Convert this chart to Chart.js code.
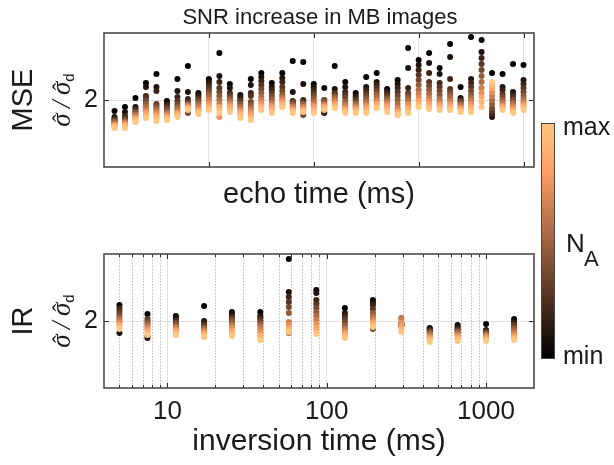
<!DOCTYPE html>
<html><head><meta charset="utf-8">
<script src="https://cdn.jsdelivr.net/npm/chart.js@4.4.1/dist/chart.umd.min.js"></script>
<style>
html,body{margin:0;padding:0;background:#fff;}
body{width:614px;height:465px;position:relative;overflow:hidden;font-family:"Liberation Sans",Arial,Helvetica,sans-serif;color:#1a1a1a;}
.abs{position:absolute;white-space:nowrap;line-height:1;}
.ctr{transform:translate(-50%,-50%);}
.rot{transform:translate(-50%,-50%) rotate(-90deg);}
canvas{position:absolute;left:0;}
#c1{top:0;}
#c2{top:220px;}
.sig{font-family:"Liberation Serif","DejaVu Serif",serif;font-style:italic;font-size:27px;}
.sig sub{font-style:normal;font-family:"Liberation Sans",Arial,sans-serif;font-size:15px;vertical-align:-4px;}
.hat{position:relative;display:inline-block;}
.caret{position:absolute;left:0.2em;top:0.12em;font-style:normal;font-size:0.85em;}
#cbar{position:absolute;left:541px;top:123px;width:12px;height:234px;border:1px solid #444;
 background:linear-gradient(to bottom,rgb(255,199,127) 0%,rgb(255,159,101) 20%,rgb(0,0,0) 100%);}
</style></head><body>
<canvas id="c1" width="614" height="212"></canvas>
<canvas id="c2" width="614" height="245"></canvas>

<div class="abs ctr" style="left:320px;top:17px;font-size:22px;">SNR increase in MB images</div>
<div class="abs rot" style="left:22px;top:100px;font-size:29px;">MSE</div>
<div class="abs rot sig" style="left:62px;top:100px;"><span class="hat">σ<span class="caret">ˆ</span></span>&#8201;/&#8201;<span class="hat">σ<span class="caret">ˆ</span></span><sub>d</sub></div>
<div class="abs rot" style="left:22px;top:321px;font-size:29px;">IR</div>
<div class="abs rot sig" style="left:62px;top:321px;"><span class="hat">σ<span class="caret">ˆ</span></span>&#8201;/&#8201;<span class="hat">σ<span class="caret">ˆ</span></span><sub>d</sub></div>

<div id="cbar"></div>
<div class="abs" style="left:563px;top:114px;font-size:25px;">max</div>
<div class="abs" style="left:563px;top:343px;font-size:25px;">min</div>
<div class="abs" style="left:566px;top:230px;font-size:26px;">N</div>
<div class="abs" style="left:584px;top:248px;font-size:22px;">A</div>

<script>
// ---------- data ----------
const ECHO_TIMES = [10,20,30,40,50,60,70,80,90,100,110,120,130,140,150,160,170,180,190,200,
                    210,220,230,240,250,260,270,280,290,300,310,320,330,340,350,360,370,380,390,400];
const INVERSION_TIMES = [5,7.5,11.3,17,25.4,38.3,57.8,86,130,195,294,443,663,1000,1500];
const NA_LEVELS = [1,2,3,4,5,6,7,8,9,10,11,12];   // ordered min -> max
const MSE_X_TICKS = [100,200,300,400];
const IR_X_TICKS = [10,100,1000];
const IR_X_MINOR = [5,6,7,8,9,20,30,40,50,60,70,80,90,200,300,400,500,600,700,800,900];
const Y_TICKS = [2];

// one row per echo time, one value per N_A level
const MSE_VALUES = [
 [1.89,1.83,1.81,1.80,1.79,1.78,1.77,1.76,1.75,1.74,1.73,1.72],
 [1.93,1.88,1.84,1.82,1.80,1.79,1.78,1.77,1.76,1.75,1.74,1.72],
 [2.02,1.93,1.91,1.89,1.88,1.87,1.85,1.84,1.82,1.81,1.80,1.78],
 [2.17,2.13,2.04,2.02,1.99,1.96,1.93,1.90,1.88,1.86,1.84,1.82],
 [2.26,2.13,2.09,1.96,1.94,1.92,1.90,1.88,1.86,1.84,1.82,1.79],
 [1.99,1.97,1.95,1.93,1.91,1.89,1.87,1.86,1.84,1.83,1.81,1.80],
 [2.21,2.09,2.03,1.99,1.96,1.93,1.91,1.89,1.87,1.86,1.85,1.83],
 [2.34,2.08,2.01,1.98,1.87,1.96,1.95,1.94,1.93,1.92,1.91,1.90],
 [2.07,2.05,2.03,2.01,1.99,1.97,1.95,1.93,1.91,1.89,1.88,1.86],
 [2.21,2.18,2.15,2.12,2.09,2.06,2.03,2.00,1.97,1.94,1.92,1.90],
 [2.47,2.24,2.18,2.12,2.08,2.04,2.00,1.96,1.83,1.93,1.90,1.87],
 [2.16,2.12,2.07,2.05,2.03,2.01,1.99,1.97,1.95,1.93,1.90,1.88],
 [2.05,2.03,2.01,1.99,1.97,1.95,1.93,1.91,1.89,1.87,1.85,1.82],
 [2.21,2.15,2.07,2.04,1.98,1.95,1.92,1.90,1.87,1.85,1.82,1.80],
 [2.27,2.23,2.19,2.15,2.11,2.07,2.03,2.00,1.97,1.94,1.92,1.90],
 [2.17,2.13,2.10,2.07,2.04,2.01,1.98,1.96,1.94,1.92,1.89,1.87],
 [2.27,2.22,2.18,2.13,2.09,2.05,2.03,2.01,1.99,1.97,1.95,1.93],
 [2.39,2.08,1.99,1.98,1.97,1.96,1.94,1.93,1.91,1.90,1.89,1.87],
 [2.38,2.16,2.00,1.98,1.85,1.96,1.94,1.93,1.92,1.90,1.89,1.88],
 [2.16,2.13,2.10,2.07,2.04,2.01,1.98,1.96,1.94,1.92,1.89,1.87],
 [2.12,1.87,1.88,2.00,1.99,1.98,1.96,1.95,1.94,1.93,1.91,1.90],
 [2.34,2.11,2.07,2.06,2.04,2.03,2.01,1.99,1.97,1.95,1.94,1.92],
 [2.18,2.13,2.08,2.05,2.02,1.98,1.96,1.94,1.92,1.90,1.89,1.87],
 [2.07,2.04,2.02,2.00,1.98,1.96,1.95,1.93,1.92,1.90,1.89,1.87],
 [2.23,2.13,2.10,2.07,2.04,2.01,1.98,1.96,1.94,1.92,1.89,1.87],
 [2.27,2.18,2.15,2.12,2.09,2.06,2.03,2.00,1.98,1.96,1.94,1.92],
 [2.11,2.09,2.07,2.05,2.03,2.01,1.99,1.97,1.95,1.93,1.90,1.88],
 [2.20,2.16,2.12,2.08,2.04,2.00,1.96,1.92,1.90,1.88,1.86,1.85],
 [2.52,2.32,2.12,2.07,2.05,2.02,2.00,1.97,1.95,1.92,1.90,1.87],
 [2.40,2.35,2.30,2.25,2.20,2.15,2.10,2.06,2.02,1.99,1.96,1.93],
 [2.47,2.37,2.27,2.18,2.14,2.10,2.06,2.02,1.99,1.96,1.93,1.91],
 [2.32,2.26,2.17,2.13,2.09,2.05,2.01,1.98,1.96,1.94,1.92,1.90],
 [2.56,2.43,2.21,2.11,2.08,2.05,2.02,1.99,1.96,1.94,1.92,1.90],
 [2.13,2.02,2.00,1.99,1.98,1.96,1.95,1.93,1.92,1.91,1.89,1.88],
 [2.63,2.21,2.17,2.13,2.09,2.05,2.02,1.99,1.96,1.93,1.91,1.88],
 [2.60,2.48,2.42,2.36,2.30,2.24,2.18,2.12,2.07,2.03,1.98,1.93],
 [2.27,1.83,1.86,1.89,1.92,1.96,2.00,2.04,2.08,2.12,2.15,2.18],
 [2.26,2.13,2.10,2.06,2.03,2.00,1.98,1.96,1.94,1.93,1.91,1.90],
 [2.36,2.08,2.05,2.02,2.00,1.98,1.96,1.94,1.92,1.90,1.88,1.87],
 [2.35,2.20,2.16,2.12,2.08,2.04,2.01,1.98,1.96,1.94,1.92,1.90]
];

// one row per inversion time, one value per N_A level
const IR_VALUES = [
 [2.16,1.88,2.13,2.10,2.07,2.04,2.02,2.00,1.98,1.96,1.94,1.92],
 [2.07,1.83,1.85,2.02,2.00,1.98,1.96,1.94,1.92,1.90,1.88,1.86],
 [2.05,2.03,2.01,1.99,1.98,1.96,1.94,1.93,1.91,1.90,1.88,1.86],
 [2.15,2.00,1.98,1.96,1.94,1.93,1.92,1.90,1.89,1.87,1.86,1.84],
 [2.09,2.07,2.05,2.03,2.01,1.99,1.97,1.95,1.93,1.90,1.87,1.85],
 [2.09,2.05,2.03,2.01,1.99,1.97,1.95,1.92,1.89,1.86,1.84,1.81],
 [2.62,2.29,2.24,2.19,2.14,2.08,1.88,1.99,1.96,1.93,1.91,1.89],
 [2.31,2.28,2.21,2.17,2.13,2.09,2.05,2.01,1.97,1.93,1.90,1.87],
 [2.13,2.08,2.05,2.02,1.99,1.96,1.93,1.91,1.89,1.87,1.85,1.83],
 [2.21,2.18,2.16,2.12,1.92,2.08,2.05,2.02,2.00,1.98,1.96,1.94],
 [1.97,1.97,1.96,1.96,1.95,1.95,2.03,2.01,1.98,1.95,1.92,1.89],
 [1.93,1.92,1.91,1.90,1.89,1.88,1.87,1.85,1.84,1.82,1.81,1.79],
 [1.96,1.94,1.92,1.91,1.90,1.89,1.88,1.86,1.85,1.83,1.82,1.80],
 [1.97,1.91,1.90,1.89,1.88,1.87,1.86,1.85,1.84,1.82,1.81,1.80],
 [2.02,2.00,1.98,1.96,1.94,1.92,1.90,1.88,1.86,1.84,1.83,1.81]
];

// ---------- helpers ----------
const FONT = "'Liberation Sans', Arial, Helvetica, sans-serif";
Chart.defaults.font.family = FONT;
Chart.defaults.color = '#1a1a1a';

function copper(t){
  const r = Math.min(1, 1.25*t), g = 0.7812*t, b = 0.4975*t;
  return `rgb(${Math.round(r*255)},${Math.round(g*255)},${Math.round(b*255)})`;
}
const naMin = Math.min(...NA_LEVELS), naMax = Math.max(...NA_LEVELS);

function buildDataset(xs, vals){
  const data = [], colors = [];
  NA_LEVELS.forEach((na, L) => {
    xs.forEach((x, i) => {
      data.push({x: x, y: vals[i][L]});
      colors.push(copper((na - naMin)/(naMax - naMin)));
    });
  });
  return {data, pointBackgroundColor: colors, pointBorderWidth: 0,
          pointRadius: 3, pointHoverRadius: 3, showLine: false};
}

const framePlugin = {
  id: 'frame',
  beforeDatasetsDraw(chart, args, opts){
    const ctx = chart.ctx, a = chart.chartArea, xs = chart.scales.x;
    if (opts.minor){
      ctx.save();
      ctx.strokeStyle = '#bdbdbd'; ctx.lineWidth = 1; ctx.setLineDash([1.5,1.5]);
      opts.minor.forEach(v => {
        const px = Math.round(xs.getPixelForValue(v)) + 0.5;
        ctx.beginPath(); ctx.moveTo(px, a.top); ctx.lineTo(px, a.bottom); ctx.stroke();
      });
      ctx.restore();
    }
  },
  afterDatasetsDraw(chart, args, opts){
    const ctx = chart.ctx, a = chart.chartArea, xs = chart.scales.x, ys = chart.scales.y;
    ctx.save();
    ctx.strokeStyle = '#262626'; ctx.lineWidth = 1;
    const tickX = (v, len) => {
      const px = Math.round(xs.getPixelForValue(v)) + 0.5;
      ctx.beginPath();
      ctx.moveTo(px, a.bottom); ctx.lineTo(px, a.bottom - len);
      ctx.moveTo(px, a.top); ctx.lineTo(px, a.top + len);
      ctx.stroke();
    };
    xs.ticks.forEach(t => tickX(t.value, 5));
    (opts.minor || []).forEach(v => tickX(v, 3));
    ys.ticks.forEach(t => {
      const py = Math.round(ys.getPixelForValue(t.value)) + 0.5;
      ctx.beginPath();
      ctx.moveTo(a.left, py); ctx.lineTo(a.left + 5, py);
      ctx.moveTo(a.right, py); ctx.lineTo(a.right - 5, py);
      ctx.stroke();
    });
    ctx.strokeStyle = '#4a4a4a'; ctx.lineWidth = 1.6;
    ctx.strokeRect(a.left, a.top, a.right - a.left, a.bottom - a.top);
    ctx.restore();
  }
};

function yScale(){
  return {
    type: 'linear', min: 1.33, max: 2.67,
    afterBuildTicks: s => { s.ticks = Y_TICKS.map(v => ({value: v})); },
    ticks: {font: {size: 25}, color: '#1a1a1a', padding: 6},
    grid: {color: '#e0e0e0', lineWidth: 1, drawTicks: false},
    border: {display: false},
    afterFit: s => { s.width = 104; }
  };
}

// ---------- MSE panel ----------
new Chart(document.getElementById('c1'), {
  type: 'scatter',
  data: {datasets: [buildDataset(ECHO_TIMES, MSE_VALUES)]},
  options: {
    responsive: false, animation: false, events: [],
    layout: {padding: {left: 0, right: 80, top: 33, bottom: 0}},
    plugins: {legend: {display: false}, tooltip: {enabled: false}, frame: {}},
    scales: {
      x: {
        type: 'linear', min: 0, max: 410,
        afterBuildTicks: s => { s.ticks = MSE_X_TICKS.map(v => ({value: v})); },
        ticks: {display: false},
        grid: {color: '#e0e0e0', lineWidth: 1, drawTicks: false},
        border: {display: false},
        title: {display: true, text: 'echo time (ms)', font: {size: 29}, color: '#1a1a1a',
                padding: {top: 0, bottom: 0}},
        afterFit: s => { s.height = 45; }
      },
      y: yScale()
    }
  },
  plugins: [framePlugin]
});

// ---------- IR panel ----------
new Chart(document.getElementById('c2'), {
  type: 'scatter',
  data: {datasets: [buildDataset(INVERSION_TIMES, IR_VALUES)]},
  options: {
    responsive: false, animation: false, events: [],
    layout: {padding: {left: 0, right: 80, top: 34, bottom: 0}},
    plugins: {legend: {display: false}, tooltip: {enabled: false}, frame: {minor: IR_X_MINOR}},
    scales: {
      x: {
        type: 'logarithmic', min: 4, max: 2000,
        afterBuildTicks: s => { s.ticks = IR_X_TICKS.map(v => ({value: v})); },
        ticks: {font: {size: 26}, color: '#1a1a1a', padding: 8, maxRotation: 0, autoSkip: false,
                callback: v => String(v)},
        grid: {color: '#e0e0e0', lineWidth: 1, drawTicks: false},
        border: {display: false},
        title: {display: true, text: 'inversion time (ms)', font: {size: 30}, color: '#1a1a1a',
                padding: {top: 0, bottom: 5}},
        afterFit: s => { s.height = 77; }
      },
      y: yScale()
    }
  },
  plugins: [framePlugin]
});
</script>
</body></html>
